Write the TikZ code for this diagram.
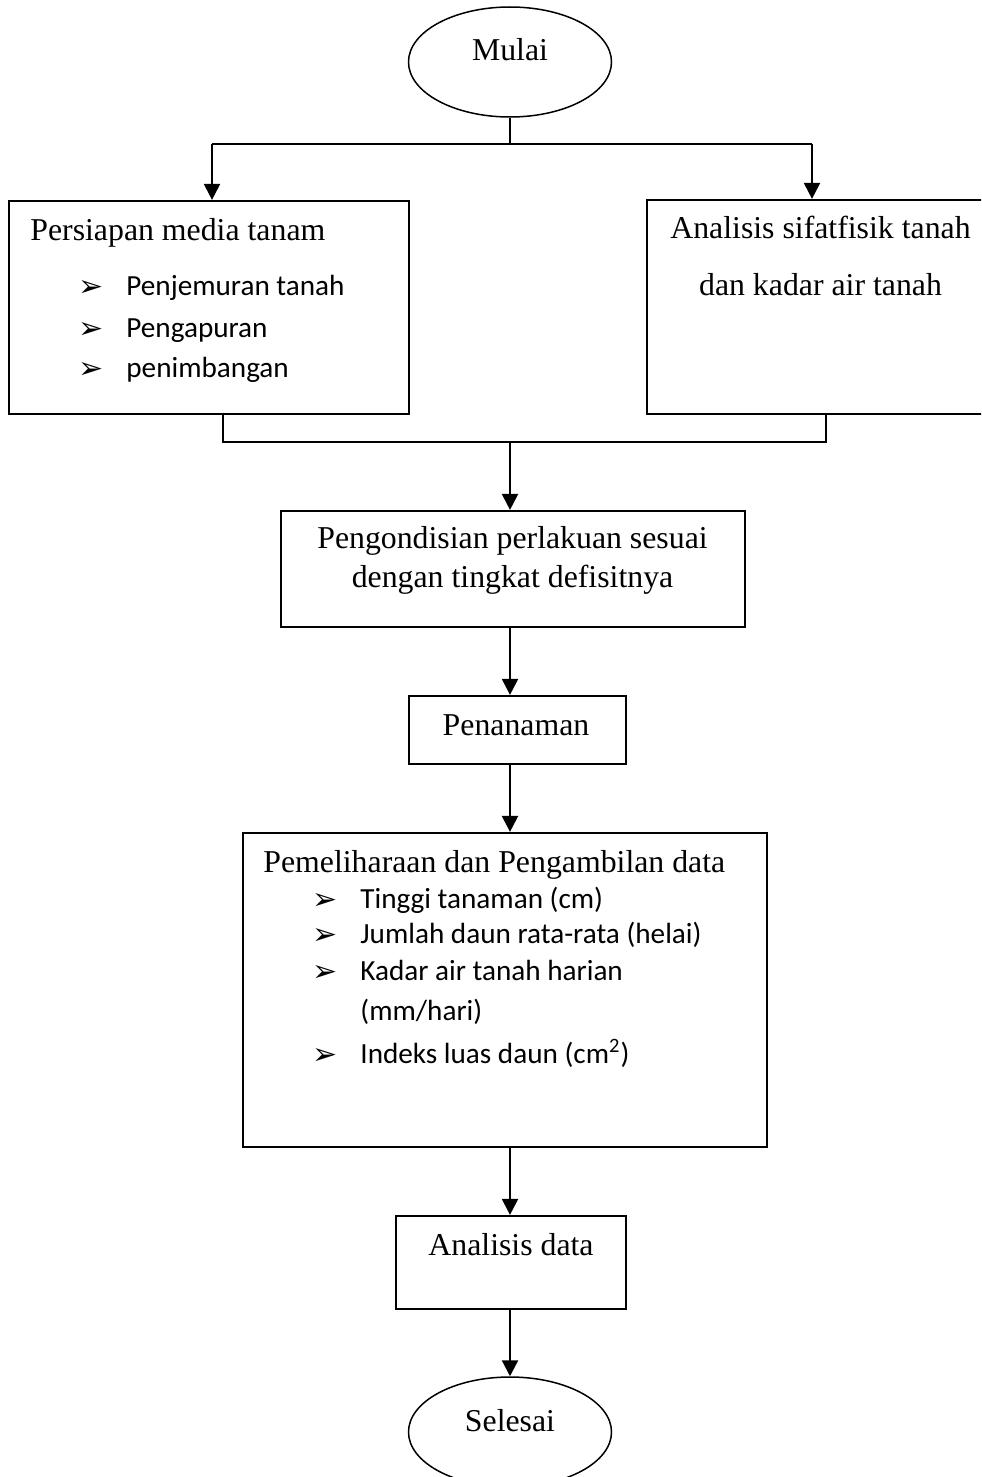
\documentclass[tikz,border=0pt]{standalone}
\usepackage{fontspec}
\setmainfont{Liberation Serif}
\newfontfamily\calfont{Carlito}
\newfontfamily\symfont{DejaVu Sans}
\usetikzlibrary{arrows.meta,shapes.geometric}
\tikzset{
  box/.style={draw, line width=1.1pt, rectangle, inner sep=0pt},
  oval/.style={draw, line width=0.75pt, ellipse, inner sep=0pt, minimum width=101.5pt, minimum height=55pt},
  tx/.style={inner sep=0pt, anchor=base, font=\fontsize{15.9}{19}\selectfont},
  txl/.style={inner sep=0pt, anchor=base west, font=\fontsize{15.9}{19}\selectfont},
  bt/.style={inner sep=0pt, anchor=base west, font=\calfont\fontsize{14.6}{17}\selectfont},
  bul/.style={inner sep=0pt, anchor=base west, font=\symfont\fontsize{15}{17}\selectfont},
  link/.style={line width=1.1pt},
  arr/.style={line width=1.1pt, -{Triangle[width=8pt,length=8pt]}}
}
\begin{document}
\begin{tikzpicture}[x=0.5pt,y=-0.5pt]
\useasboundingbox (0,0) rectangle (981,1477);
\fill[white] (0,0) rectangle (981,1477);
\clip (0,0) rectangle (981,1477);

% start
\node[oval] (mulai) at (510,62) {};
\node[tx] (tmulai) at (510,61) {Mulai};

% first row
\node[box, minimum width=200pt, minimum height=106.5pt] (left) at (209,307.5) {};
\node[txl] (tleft) at (30,240) {Persiapan media tanam};
\node[bul] (b1) at (78,296) {➢};
\node[bt] (l1) at (126,295) {Penjemuran tanah};
\node[bul] (b2) at (78,338) {➢};
\node[bt] (l2) at (126,337) {Pengapuran};
\node[bul] (b3) at (78,378) {➢};
\node[bt] (l3) at (126,377) {penimbangan};

\node[box, minimum width=176.5pt, minimum height=107pt] (right) at (823.5,307) {};
\node[tx] (tr1) at (820.5,238) {Analisis sifatfisik tanah};
\node[tx] (tr2) at (820.5,295) {dan kadar air tanah};

% conditioning
\node[box, minimum width=232pt, minimum height=58pt] (cond) at (513,569) {};
\node[tx] (tc1) at (512.5,548) {Pengondisian perlakuan sesuai};
\node[tx] (tc2) at (512.5,587) {dengan tingkat defisitnya};

% planting
\node[box, minimum width=108.5pt, minimum height=34pt] (tanam) at (517.5,730) {};
\node[tx] (tt) at (516,735) {Penanaman};

% maintenance
\node[box, minimum width=262pt, minimum height=157pt] (pelihara) at (505,990) {};
\node[txl] (tp) at (263,872) {Pemeliharaan dan Pengambilan data};
\node[bul] (pb1) at (312,909) {➢};
\node[bt] (p1) at (360,908) {Tinggi tanaman (cm)};
\node[bul] (pb2) at (312,944) {➢};
\node[bt] (p2) at (360,943) {Jumlah daun rata-rata (helai)};
\node[bul] (pb3) at (312,981) {➢};
\node[bt] (p3) at (360,980) {Kadar air tanah harian};
\node[bt] (p3b) at (360,1020) {(mm/hari)};
\node[bul] (pb4) at (312,1064) {➢};
\node[bt] (p4) at (360,1063) {Indeks luas daun (cm\textsuperscript{2})};

% analysis
\node[box, minimum width=115pt, minimum height=46.5pt] (analisis) at (511,1262.5) {};
\node[tx] (ta) at (511,1255) {Analisis data};

% end
\node[oval] (selesai) at (510,1432) {};
\node[tx] (ts) at (510,1431) {Selesai};

% connectors
\coordinate (jm) at (510,144);
\coordinate (jl) at (212,144);
\coordinate (jr) at (812,144);
\draw[link] (mulai.south) -- (jm);
\draw[link] (jl) -- (jr);
\draw[arr] (jl) -- (jl |- left.north);
\draw[arr] (jr) -- (jr |- right.north);

\coordinate (bl) at (223,442);
\coordinate (br) at (826,442);
\coordinate (bm) at (510,442);
\draw[link] (bl |- left.south) -- (bl) -- (br) -- (br |- right.south);
\draw[arr] (bm) -- (bm |- cond.north);

\draw[arr] (bm |- cond.south) -- (bm |- tanam.north);
\draw[arr] (bm |- tanam.south) -- (bm |- pelihara.north);
\draw[arr] (bm |- pelihara.south) -- (bm |- analisis.north);
\draw[arr] (bm |- analisis.south) -- (selesai.north);
\end{tikzpicture}
\end{document}
